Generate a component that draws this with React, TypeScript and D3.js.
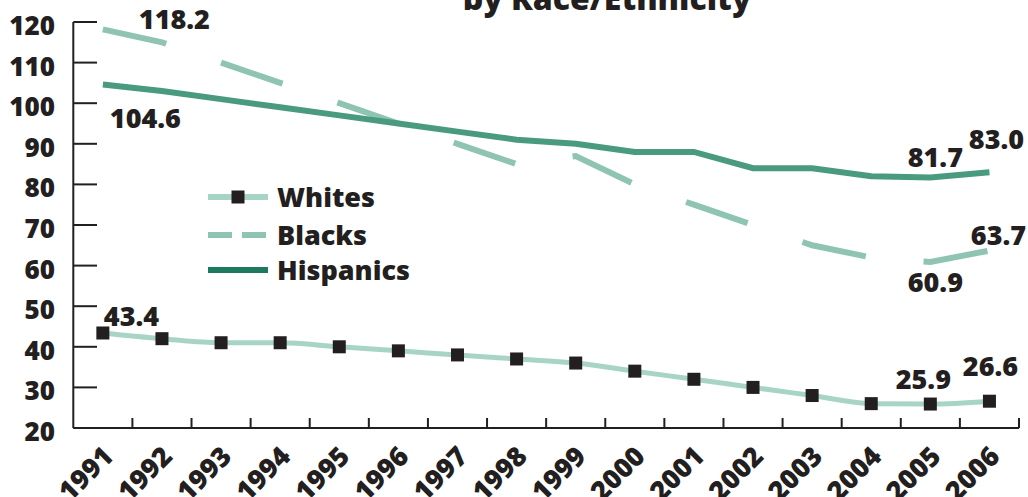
import React from 'react';
import * as d3 from 'd3';

const years = ['1991','1992','1993','1994','1995','1996','1997','1998','1999','2000','2001','2002','2003','2004','2005','2006'];
const whites = [43.4, 42, 41, 41, 40, 39, 38, 37, 36, 34, 32, 30, 28, 26, 25.9, 26.6];
const blacks = [118.2, 115, 110, 105, 100, 95, 90, 85, 87, 80, 75, 70, 65, 62, 60.9, 63.7];
const hispanics = [104.6, 103, 101, 99, 97, 95, 93, 91, 90, 88, 88, 84, 84, 82, 81.7, 83.0];
const yTicks = [20, 30, 40, 50, 60, 70, 80, 90, 100, 110, 120];
const seriesNames = ['Whites', 'Blacks', 'Hispanics'];
const title = 'by Race/Ethnicity';

const FONT = "'Open Sans', 'Noto Sans', sans-serif";
const INK = '#231f20';
const C_WHITE = '#a8d4c6';
const C_BLACK = '#8fc4b2';
const C_HISP = '#4a9a80';
const C_HISP_LEG = '#1b7a5e';

export default function App() {
  const W = 1028, H = 497;
  const x = d3.scaleBand<string>().domain(years).range([73.3, 1019]).padding(0);
  const y = d3.scaleLinear().domain([20, 120]).range([428, 22]);
  const cx = (i: number) => (x(years[i]) as number) + x.bandwidth() / 2;

  const smooth = d3.line<number>().x((_, i) => cx(i)).y(d => y(d)).curve(d3.curveMonotoneX);
  const straight = d3.line<number>().x((_, i) => cx(i)).y(d => y(d));

  const last = years.length - 1;
  const prev = last - 1;

  const labels: { t: string; x: number; y: number; anchor: string }[] = [
    { t: blacks[0].toFixed(1), x: cx(0) + 36, y: y(blacks[0]) + 0, anchor: 'start' },
    { t: hispanics[0].toFixed(1), x: cx(0) + 7, y: y(hispanics[0]) + 43, anchor: 'start' },
    { t: whites[0].toFixed(1), x: cx(0) + 1, y: y(whites[0]) - 7, anchor: 'start' },
    { t: hispanics[prev].toFixed(1), x: cx(prev) + 5, y: y(hispanics[prev]) - 10, anchor: 'middle' },
    { t: hispanics[last].toFixed(1), x: cx(last) + 7, y: y(hispanics[last]) - 23, anchor: 'middle' },
    { t: blacks[last].toFixed(1), x: cx(last) + 9, y: y(blacks[last]) - 6, anchor: 'middle' },
    { t: blacks[prev].toFixed(1), x: cx(prev) + 5, y: y(blacks[prev]) + 30, anchor: 'middle' },
    { t: whites[prev].toFixed(1), x: cx(prev) - 7, y: y(whites[prev]) - 15, anchor: 'middle' },
    { t: whites[last].toFixed(1), x: cx(last) + 1, y: y(whites[last]) - 25, anchor: 'middle' },
  ];

  const boundaries = years.map((yr) => (x(yr) as number) + x.bandwidth());

  const legX = 208, legW = 58, legTextX = 277;
  const legY = [197, 235, 270];

  return (
    <svg width={W} height={H} style={{ position: 'absolute', left: 0, top: 0, background: '#fff' }}
      fontFamily={FONT} fontWeight={800}>
      <rect width={W} height={H} fill="#fff" />
      <text x={607} y={10} textAnchor="middle" fontSize={32} fontWeight={800} fill={INK}>{title}</text>

      {/* axes */}
      <line x1={73.3} x2={73.3} y1={y(120)} y2={y(20)} stroke={INK} strokeWidth={2} />
      <line x1={73.3} x2={1019} y1={y(20)} y2={y(20)} stroke={INK} strokeWidth={2} />
      {yTicks.map(t => (
        <g key={t}>
          <line x1={73.3} x2={97} y1={y(t)} y2={y(t)} stroke={INK} strokeWidth={2} />
          <text x={55} y={y(t) + 13} textAnchor="end" fontSize={26} fill={INK}>{t}</text>
        </g>
      ))}
      {boundaries.map((b, i) => (
        <line key={i} x1={b} x2={b} y1={y(20)} y2={y(20) - 10} stroke={INK} strokeWidth={2} />
      ))}
      {years.map((yr, i) => (
        <text key={yr} transform={`translate(${cx(i) + 12},${458}) rotate(-45)`} textAnchor="end"
          fontSize={27} fill={INK}>{yr}</text>
      ))}

      {/* series */}
      <path d={straight(blacks) || ''} fill="none" stroke={C_BLACK} strokeWidth={6}
        strokeDasharray="65 58" strokeLinejoin="miter" />
      <path d={straight(hispanics) || ''} fill="none" stroke={C_HISP} strokeWidth={6} strokeLinejoin="miter" />
      <path d={smooth(whites) || ''} fill="none" stroke={C_WHITE} strokeWidth={5} />
      {whites.map((v, i) => (
        <rect key={i} x={cx(i) - 6.5} y={y(v) - 6.5} width={13} height={13} fill={INK} />
      ))}

      {labels.map((l, i) => (
        <text key={i} x={l.x} y={l.y} textAnchor={l.anchor} fontSize={27} fill={INK}>{l.t}</text>
      ))}

      {/* legend */}
      <line x1={legX} x2={legX + legW + 2} y1={legY[0]} y2={legY[0]} stroke={C_WHITE} strokeWidth={6} />
      <rect x={legX + 30 - 6.5} y={legY[0] - 6.5} width={13} height={13} fill={INK} />
      <line x1={legX} x2={legX + legW} y1={legY[1]} y2={legY[1]} stroke={C_BLACK} strokeWidth={6} strokeDasharray="24 10" />
      <line x1={legX} x2={legX + legW + 2} y1={legY[2]} y2={legY[2]} stroke={C_HISP_LEG} strokeWidth={6} />
      {seriesNames.map((n, i) => (
        <text key={n} x={legTextX} y={legY[i] + 10} fontSize={27} fill={INK}>{n}</text>
      ))}
    </svg>
  );
}
